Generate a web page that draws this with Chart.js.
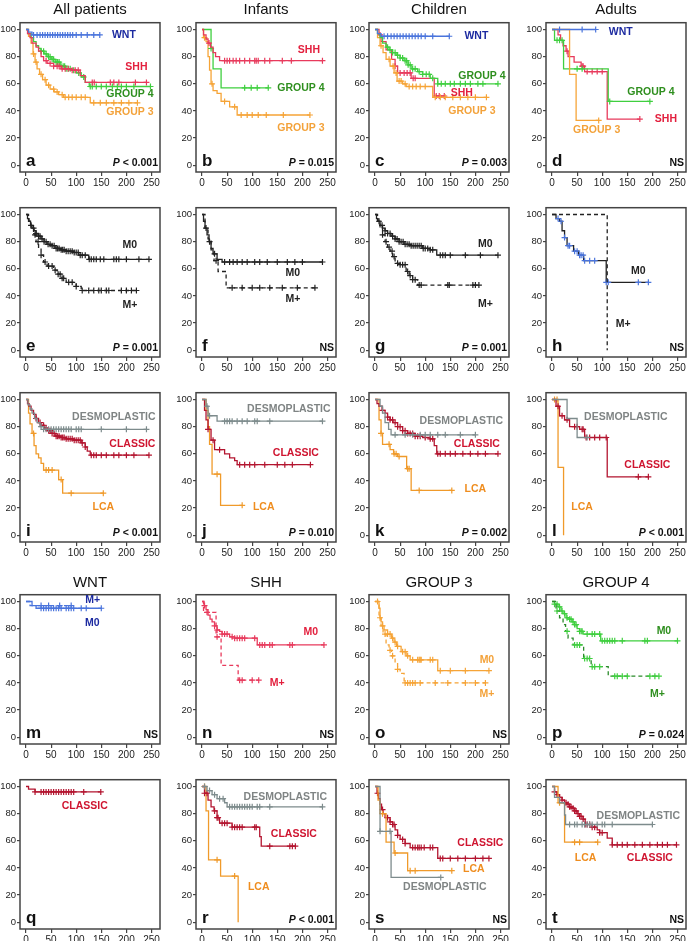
<!DOCTYPE html>
<html>
<head>
<meta charset="utf-8">
<script src="https://cdn.jsdelivr.net/npm/chart.js"></script>
<style>
  body { margin: 0; background: #fff; width: 688px; height: 941px; position: relative; overflow: hidden;
         font-family: 'Liberation Sans', Arial, sans-serif; }
  canvas { position: absolute; }
  .ttl { position: absolute; text-align: center; font-size: 15px; line-height: 18px; color: #111; }
</style>
</head>
<body>
<script>
// axis ticks and panel titles
const X_TICKS = [0, 50, 100, 150, 200, 250];
const Y_TICKS = [0, 20, 40, 60, 80, 100];
const colTitles = ["All patients", "Infants", "Children", "Adults"];
const subTitles = ["WNT", "SHH", "GROUP 3", "GROUP 4"];

// KM curves: [time, survival %] after each drop, plus censor times
// a - all patients by subgroup
const aWnt = [[0,100],[5,98],[12,96]];
const aWntC = [15,22,28,33,38,43,48,53,58,63,68,73,78,83,88,93,100,110,122,135,147];
const aShh = [[0,100],[3,97],[8,94],[12,90],[20,87],[25,84],[30,80],[35,77],[42,75],[55,73],[70,71],[90,70],[108,66],[118,61]];
const aShhC = [40,48,55,62,66,72,78,84,92,98,104,132,136,168,175,185,218,240];
const aG4 = [[0,100],[4,97],[10,94],[15,91],[20,88],[25,86],[30,84],[36,82],[42,80],[50,78],[58,76],[68,73],[78,71],[90,70],[100,68],[110,65],[118,61],[126,58]];
const aG4C = [30,35,40,45,48,52,55,60,63,66,70,74,77,80,84,88,95,105,115,128,132,140,150,160,172,182,190,200,215,248];
const aG3 = [[0,100],[5,95],[10,90],[14,82],[18,76],[22,71],[27,67],[33,63],[40,59],[48,56],[56,54],[65,52],[75,50],[128,46]];
const aG3C = [15,20,30,38,45,55,62,72,78,85,92,100,110,118,135,148,160,175,190,205,222];

// b - infants
const bShh = [[0,100],[3,96],[8,93],[12,90],[17,87],[22,83],[27,80],[35,77]];
const bShhC = [14,45,50,55,62,68,75,85,95,105,108,112,125,135,160,178,240];
const bG4 = [[0,100],[18,86],[22,71],[38,57]];
const bG4C = [18,85,98,110,132];
const bG3 = [[0,100],[3,94],[8,91],[12,80],[15,70],[18,60],[22,55],[30,53],[38,47],[55,43],[70,37]];
const bG3C = [5,20,45,65,78,90,100,112,128,162,215];

// c - children
const cWnt = [[0,100],[5,97],[12,95]];
const cWntC = [18,25,32,38,44,50,56,62,68,74,80,86,92,100,115,148];
const cShh = [[0,100],[8,96],[12,91],[22,85],[33,78],[40,73],[45,68],[72,64],[118,51]];
const cShhC = [10,40,50,58,64,70,76,80,122,128,138];
const cG4 = [[0,100],[5,97],[10,94],[15,90],[22,87],[28,85],[35,83],[42,81],[50,79],[58,77],[66,74],[72,71],[85,69],[95,67],[110,64],[125,60]];
const cG4C = [25,30,35,40,45,50,55,60,63,66,70,75,80,88,95,102,108,115,125,132,140,150,158,170,180,190,205,215,245];
const cG3 = [[0,100],[5,94],[10,88],[16,83],[22,78],[30,73],[38,68],[44,62],[55,60],[62,58],[115,50]];
const cG3C = [12,28,36,42,48,52,60,68,75,82,90,100,120,130,140,155,170,185,200,222];

// d - adults
const dWnt = [[0,100]];
const dWntC = [15,60,87];
const dShh = [[0,100],[12,96],[17,92],[22,88],[28,84],[32,80],[44,76],[58,73],[65,69],[110,34]];
const dShhC = [30,60,62,70,80,90,100,175];
const dG4 = [[0,100],[5,92],[23,71],[112,47]];
const dG4C = [10,15,20,50,60,115,195];
const dG3 = [[0,100],[35,67],[48,33]];
const dG3C = [93];

// e-h - metastatic stage
const eM0 = [[0,100],[3,97],[6,95],[9,92],[12,90],[16,88],[20,86],[25,84],[30,82],[36,80],[42,78],[50,77],[58,75],[68,74],[80,73],[95,72],[105,70],[125,67]];
const eM0C = [10,15,20,25,28,32,36,40,44,48,52,56,60,63,66,70,73,76,80,84,88,92,96,100,104,108,112,118,126,130,135,140,148,155,175,180,185,200,225,245];
const eMp = [[0,100],[5,95],[10,90],[15,85],[20,80],[25,75],[30,70],[35,65],[42,62],[55,59],[62,56],[70,53],[80,50],[100,47],[110,44]];
const eMpC = [18,24,30,38,45,52,58,64,68,72,75,85,92,100,112,125,135,145,150,160,165,190,200,210,220];
const fM0 = [[0,100],[3,95],[6,90],[10,85],[14,80],[18,75],[22,71],[30,67],[40,65]];
const fM0C = [8,15,25,45,55,62,70,80,90,105,115,130,150,170,185,200,240];
const fMp = [[0,100],[6,90],[12,82],[18,74],[24,66],[32,58],[48,46]];
const fMpC = [28,60,80,100,115,135,160,190,225];
const gM0 = [[0,100],[3,97],[6,95],[10,92],[15,90],[20,88],[25,86],[32,84],[40,82],[48,80],[58,78],[70,77],[95,75],[110,74],[123,70]];
const gM0C = [8,14,20,25,30,35,40,44,48,52,56,60,64,68,72,76,80,84,88,92,96,100,105,110,115,130,135,140,150,180,210,245];
const gMp = [[0,100],[5,95],[10,90],[15,85],[20,80],[25,76],[30,73],[35,69],[40,64],[50,63],[62,58],[68,55],[75,52],[85,48]];
const gMpC = [15,22,28,34,38,45,50,55,60,65,70,75,80,88,92,145,148,195,200,207];
const hM0 = [[0,100],[8,97],[15,95],[20,88],[25,83],[30,77],[43,73],[53,70],[63,66],[108,50]];
const hM0C = [12,18,25,32,35,45,50,55,58,62,65,75,85,108,112,172,192];
const hMp = [[0,100],[110,0]];
const hMpC = [];

// i-l - histology
const iDes = [[0,100],[4,96],[8,93],[12,90],[17,86],[22,83],[28,80],[35,78]];
const iDesC = [30,35,40,45,50,55,60,65,70,75,80,85,90,100,105,110,150,200,240];
const iCla = [[0,100],[3,97],[6,95],[10,92],[15,89],[20,86],[25,83],[30,81],[36,79],[42,77],[50,75],[58,73],[68,72],[80,71],[95,70],[110,68],[118,65],[122,62],[128,59]];
const iClaC = [20,28,35,40,45,48,52,56,60,63,66,70,73,76,80,84,88,92,96,100,104,108,112,118,130,135,140,150,160,175,185,200,215,245];
const iLca = [[0,100],[5,90],[8,82],[12,75],[16,66],[20,60],[25,57],[30,53],[35,48],[65,41],[73,31]];
const iLcaC = [15,40,45,52,70,90,154];
const jDes = [[0,100],[8,95],[12,88],[30,84]];
const jDesC = [10,15,45,50,55,60,70,80,90,105,110,135,240];
const jCla = [[0,100],[5,92],[8,85],[12,78],[18,70],[25,63],[45,60],[55,57],[65,55],[70,52]];
const jClaC = [12,22,35,75,85,95,105,125,150,165,180,216];
const jLca = [[0,100],[8,92],[12,80],[15,67],[20,45],[37,22]];
const jLcaC = [30,80];
const kDes = [[0,100],[10,95],[15,90],[20,83],[27,78],[32,74]];
const kDesC = [40,60,75,90,100,110,125,140,170,200];
const kCla = [[0,100],[4,97],[8,95],[14,92],[20,90],[25,87],[30,85],[36,83],[45,80],[55,77],[65,75],[80,73],[95,72],[110,71],[118,66],[123,60]];
const kClaC = [15,25,30,35,40,45,50,55,60,65,70,75,80,85,90,100,110,115,125,130,140,150,160,175,190,205,220,245];
const kLca = [[0,100],[8,85],[12,75],[15,67],[30,63],[37,60],[45,58],[63,49],[72,33]];
const kLcaC = [12,28,38,42,48,65,68,88,153];
const lDes = [[0,100],[30,86],[50,72]];
const lDesC = [70];
const lCla = [[0,100],[8,95],[15,88],[25,85],[35,80],[55,78],[65,72],[110,43]];
const lClaC = [12,20,30,45,50,60,62,68,75,85,95,108,172,192];
const lLca = [[0,100],[12,50],[23,0]];
const lLcaC = [5,10];

// m-p - stage within subgroup
const mMp = [[0,100],[8,97]];
const mMpC = [30,45,67,90];
const mM0 = [[0,100],[12,97],[20,95]];
const mM0C = [30,35,40,45,50,55,60,65,70,80,85,90,95,110,120,150];
const nM0 = [[0,100],[4,97],[8,94],[12,90],[16,87],[20,85],[25,82],[30,79],[35,78],[40,76],[55,74],[65,73],[110,68]];
const nM0C = [5,25,30,40,45,50,60,65,70,75,80,85,105,115,120,125,135,140,175,180,243];
const nMp = [[0,100],[3,92],[28,74],[38,53],[72,42]];
const nMpC = [10,30,75,80,100,113];
const oM0 = [[0,100],[8,95],[10,88],[12,85],[15,82],[18,79],[25,76],[33,73],[38,70],[43,67],[52,63],[62,60],[70,57],[125,49]];
const oM0C = [5,10,15,25,30,35,40,45,55,60,65,75,85,88,90,92,110,115,130,150,180,227];
const oMp = [[0,100],[8,88],[12,82],[16,76],[22,68],[28,64],[33,60],[40,55],[45,50],[50,47],[58,40]];
const oMpC = [20,30,35,45,60,65,70,75,80,90,120,145,180,200,220];
const pM0 = [[0,100],[5,98],[12,96],[18,93],[22,91],[28,88],[35,87],[40,85],[45,83],[50,80],[55,78],[62,76],[97,71]];
const pM0C = [5,10,15,20,25,30,35,38,42,45,48,55,58,60,70,80,85,95,100,105,110,115,120,125,140,185,190,250];
const pMp = [[0,100],[8,93],[15,88],[22,83],[27,78],[32,73],[42,68],[63,58],[78,52],[112,45]];
const pMpC = [10,30,45,50,55,65,70,75,80,85,95,125,130,140,150,195,205,213];

// q-t - histology within subgroup
const qCla = [[0,100],[5,98],[18,96]];
const qClaC = [18,30,35,40,45,50,55,60,65,70,75,80,85,90,95,115,149];
const rDes = [[0,100],[10,97],[20,94],[30,91],[45,88],[50,85]];
const rDesC = [5,15,25,35,42,55,60,65,70,75,80,85,90,95,100,110,115,135,240];
const rCla = [[0,100],[5,95],[12,90],[18,85],[24,82],[30,77],[35,73],[60,70],[115,63],[118,56]];
const rClaC = [5,10,25,30,32,40,45,50,60,65,70,75,80,105,108,135,175,180,186];
const rLca = [[0,100],[8,82],[13,46],[37,34],[72,0]];
const rLcaC = [5,30,65];
const sDes = [[0,100],[10,67],[32,33]];
const sDesC = [10,30,131];
const sCla = [[0,100],[4,95],[7,91],[10,87],[13,83],[16,80],[20,77],[30,74],[35,72],[40,68],[45,64],[50,61],[60,58],[70,55],[125,47]];
const sClaC = [5,15,25,30,35,38,45,55,60,75,80,85,88,92,98,110,115,130,135,150,165,180,200,215,227];
const sLca = [[0,100],[6,90],[10,80],[22,59],[38,51],[65,38]];
const sLcaC = [15,40,70,80,153];
const tDes = [[0,100],[5,92],[15,88],[25,79],[27,72]];
const tDesC = [35,45,50,60,65,70,75,80,90,100,105,120,200];
const tCla = [[0,100],[5,96],[10,94],[15,92],[20,90],[25,88],[30,87],[35,85],[40,84],[45,82],[50,80],[55,78],[62,76],[66,72],[80,70],[90,68],[95,66],[110,62],[120,57]];
const tClaC = [5,10,15,20,25,28,32,35,38,42,45,48,52,55,58,62,66,70,75,80,85,95,100,120,130,140,150,165,180,195,210,220,230,248];
const tLca = [[0,100],[12,88],[25,59]];
const tLcaC = [15,45,55,91];

// colours
const C = {
  wnt: "#4a74dc", wntL: "#1c2aa0", shh: "#e83a5c", shhL: "#e3203e",
  g4: "#3fcf3f", g4L: "#2f8f1f", g3: "#f6a437", g3L: "#f3a23a",
  blk: "#222222", des: "#7d8b8c", desL: "#7f8484", cla: "#b3142f", claL: "#cf1530",
  lca: "#f09a2a", lcaL: "#ef8d1f", g4dark: "#2a8a2a"
};

// layout
const BX = [20, 196, 369, 546];
const BY = [20, 205, 390, 592, 777];
const BW = 140, BH = 152, AXW = 24, AXH = 18, PADT = 4, PADR = 10;

function S(steps, cens, color, o = {}) {
  return { steps, cens, color, dash: o.dash || false, pc: o.pc || color };
}

const panels = [
  { c: 0, r: 0, letter: "a", p: "P < 0.001",
    series: [S(aWnt, aWntC, C.wnt), S(aShh, aShhC, C.shh), S(aG4, aG4C, C.g4), S(aG3, aG3C, C.g3)],
    labels: [["WNT", 195, 96, C.wntL], ["SHH", 220, 72, C.shhL], ["GROUP 4", 207, 52.5, C.g4L], ["GROUP 3", 207, 39, C.g3L]] },
  { c: 1, r: 0, letter: "b", p: "P = 0.015",
    series: [S(bShh, bShhC, C.shh), S(bG4, bG4C, C.g4), S(bG3, bG3C, C.g3)],
    labels: [["SHH", 213, 85, C.shhL], ["GROUP 4", 197, 56.5, C.g4L], ["GROUP 3", 197, 27, C.g3L]] },
  { c: 2, r: 0, letter: "c", p: "P = 0.003",
    series: [S(cWnt, cWntC, C.wnt), S(cG4, cG4C, C.g4), S(cG3, cG3C, C.g3), S(cShh, cShhC, C.shh)],
    labels: [["WNT", 202, 95, C.wntL], ["GROUP 4", 213, 66, C.g4L], ["SHH", 173, 53, C.shhL], ["GROUP 3", 193, 40, C.g3L]] },
  { c: 3, r: 0, letter: "d", p: "NS",
    series: [S(dWnt, dWntC, C.wnt), S(dG3, dG3C, C.g3), S(dG4, dG4C, C.g4), S(dShh, dShhC, C.shh)],
    labels: [["WNT", 137, 98, C.wntL], ["GROUP 4", 197, 54, C.g4L], ["SHH", 227, 34, C.shhL], ["GROUP 3", 89, 26, C.g3L]] },

  { c: 0, r: 1, letter: "e", p: "P = 0.001",
    series: [S(eM0, eM0C, C.blk), S(eMp, eMpC, C.blk, { dash: true })],
    labels: [["M0", 207, 77.5, C.blk], ["M+", 207, 33, C.blk]] },
  { c: 1, r: 1, letter: "f", p: "NS",
    series: [S(fM0, fM0C, C.blk), S(fMp, fMpC, C.blk, { dash: true })],
    labels: [["M0", 181, 57, C.blk], ["M+", 181, 38, C.blk]] },
  { c: 2, r: 1, letter: "g", p: "P = 0.001",
    series: [S(gM0, gM0C, C.blk), S(gMp, gMpC, C.blk, { dash: true })],
    labels: [["M0", 220, 78, C.blk], ["M+", 220, 34, C.blk]] },
  { c: 3, r: 1, letter: "h", p: "NS",
    series: [S(hMp, hMpC, C.blk, { dash: true }), S(hM0, hM0C, C.blk, { pc: C.wnt })],
    labels: [["M0", 172, 58, C.blk], ["M+", 142, 19, C.blk]] },

  { c: 0, r: 2, letter: "i", p: "P < 0.001",
    series: [S(iDes, iDesC, C.des), S(iCla, iClaC, C.cla), S(iLca, iLcaC, C.lca)],
    labels: [["DESMOPLASTIC", 175, 87, C.desL], ["CLASSIC", 212, 67, C.claL], ["LCA", 154, 21, C.lcaL]] },
  { c: 1, r: 2, letter: "j", p: "P = 0.010",
    series: [S(jDes, jDesC, C.des), S(jCla, jClaC, C.cla), S(jLca, jLcaC, C.lca)],
    labels: [["DESMOPLASTIC", 173, 93, C.desL], ["CLASSIC", 187, 60.5, C.claL], ["LCA", 123, 21, C.lcaL]] },
  { c: 2, r: 2, letter: "k", p: "P = 0.002",
    series: [S(kDes, kDesC, C.des), S(kCla, kClaC, C.cla), S(kLca, kLcaC, C.lca)],
    labels: [["DESMOPLASTIC", 172, 84, C.desL], ["CLASSIC", 203, 67, C.claL], ["LCA", 200, 34, C.lcaL]] },
  { c: 3, r: 2, letter: "l", p: "P < 0.001",
    series: [S(lDes, lDesC, C.des), S(lCla, lClaC, C.cla), S(lLca, lLcaC, C.lca)],
    labels: [["DESMOPLASTIC", 147, 87, C.desL], ["CLASSIC", 190, 52, C.claL], ["LCA", 60, 21, C.lcaL]] },

  { c: 0, r: 3, letter: "m", p: "NS",
    series: [S(mMp, mMpC, C.wnt, { dash: true }), S(mM0, mM0C, C.wnt)],
    labels: [["M+", 133, 101, C.wntL], ["M0", 132, 84, C.wntL]] },
  { c: 1, r: 3, letter: "n", p: "NS",
    series: [S(nMp, nMpC, C.shh, { dash: true }), S(nM0, nM0C, C.shh)],
    labels: [["M0", 217, 77.5, C.shhL], ["M+", 150, 40, C.shhL]] },
  { c: 2, r: 3, letter: "o", p: "NS",
    series: [S(oMp, oMpC, C.g3, { dash: true }), S(oM0, oM0C, C.g3)],
    labels: [["M0", 223, 57, C.g3L], ["M+", 223, 32, C.g3L]] },
  { c: 3, r: 3, letter: "p", p: "P = 0.024",
    series: [S(pMp, pMpC, C.g4dark, { dash: true, pc: C.g4 }), S(pM0, pM0C, C.g4)],
    labels: [["M0", 223, 78, C.g4L], ["M+", 210, 32, C.g4L]] },

  { c: 0, r: 4, letter: "q", p: "",
    series: [S(qCla, qClaC, C.cla)],
    labels: [["CLASSIC", 117, 85.5, C.claL]] },
  { c: 1, r: 4, letter: "r", p: "P < 0.001",
    series: [S(rDes, rDesC, C.des), S(rCla, rClaC, C.cla), S(rLca, rLcaC, C.lca)],
    labels: [["DESMOPLASTIC", 166, 92.5, C.desL], ["CLASSIC", 183, 65, C.claL], ["LCA", 113, 26, C.lcaL]] },
  { c: 2, r: 4, letter: "s", p: "NS",
    series: [S(sDes, sDesC, C.des), S(sLca, sLcaC, C.lca), S(sCla, sClaC, C.cla)],
    labels: [["CLASSIC", 210, 58, C.claL], ["LCA", 197, 39, C.lcaL], ["DESMOPLASTIC", 139, 26, C.desL]] },
  { c: 3, r: 4, letter: "t", p: "NS",
    series: [S(tDes, tDesC, C.des), S(tLca, tLcaC, C.lca), S(tCla, tClaC, C.cla)],
    labels: [["DESMOPLASTIC", 172, 78.5, C.desL], ["LCA", 67, 47, C.lcaL], ["CLASSIC", 195, 47, C.claL]] }
];

// survival level of a step curve at time t (for placing censor marks)
function level(steps, t) {
  let y = steps[0][1];
  for (const [x, s] of steps) {
    if (x <= t) y = s;
  }
  return y;
}

function kmPoints(steps, cens) {
  const pts = steps.map(([x, y]) => ({ x, y, c: false }));
  cens.forEach(t => pts.push({ x: t, y: level(steps, t), c: true }));
  pts.sort((a, b) => a.x - b.x || (a.c - b.c));
  return pts;
}

const FONT = "'Liberation Sans', Arial, Helvetica, sans-serif";
Chart.defaults.font.family = FONT;

function textPlugin(panel) {
  return {
    id: "kmText",
    afterDatasetsDraw(chart) {
      const ctx = chart.ctx;
      const a = chart.chartArea;
      const xs = chart.scales.x, ys = chart.scales.y;
      ctx.save();
      // frame
      ctx.strokeStyle = "#444";
      ctx.lineWidth = 1.5;
      ctx.strokeRect(a.left, a.top, a.right - a.left, a.bottom - a.top);
      // group labels
      ctx.font = "bold 10.5px " + FONT;
      ctx.textAlign = "center";
      ctx.textBaseline = "middle";
      panel.labels.forEach(([txt, lx, ly, col]) => {
        ctx.fillStyle = col;
        ctx.fillText(txt, xs.getPixelForValue(lx), ys.getPixelForValue(ly));
      });
      // panel letter
      ctx.fillStyle = "#111";
      ctx.textAlign = "left";
      ctx.textBaseline = "alphabetic";
      ctx.font = "bold 17px " + FONT;
      ctx.fillText(panel.letter, a.left + 6, a.bottom - 6);
      // p value
      if (panel.p) {
        ctx.textAlign = "right";
        const right = a.right - 2, base = a.bottom - 6;
        if (panel.p.startsWith("P")) {
          const rest = panel.p.slice(1);
          ctx.font = "bold 10.5px " + FONT;
          ctx.fillText(rest, right, base);
          const w = ctx.measureText(rest).width;
          ctx.font = "italic bold 10.5px " + FONT;
          ctx.fillText("P", right - w, base);
        } else {
          ctx.font = "bold 10.5px " + FONT;
          ctx.fillText(panel.p, right, base);
        }
      }
      ctx.restore();
    }
  };
}

function axisOpts(min, max, ticks, isX) {
  return {
    type: "linear",
    min: min,
    max: max,
    afterBuildTicks: s => { s.ticks = ticks.map(v => ({ value: v })); },
    afterFit: s => { if (isX) s.height = AXH; else s.width = AXW; },
    ticks: { font: { size: isX ? 10 : 9.5 }, color: "#222", padding: 1, maxRotation: 0, autoSkip: false },
    grid: { drawOnChartArea: false, tickLength: isX ? 4 : 3, color: "#444", lineWidth: 1.2 },
    border: { display: false }
  };
}

panels.forEach(panel => {
  const cv = document.createElement("canvas");
  const w = AXW + BW + PADR, h = PADT + BH + AXH;
  cv.width = w; cv.height = h;
  cv.style.width = w + "px"; cv.style.height = h + "px";
  cv.style.left = (BX[panel.c] - AXW) + "px";
  cv.style.top = (BY[panel.r] - PADT) + "px";
  document.body.appendChild(cv);

  const datasets = panel.series.map(s => ({
    data: kmPoints(s.steps, s.cens),
    borderColor: s.color,
    borderWidth: 1.3,
    borderDash: s.dash ? [4, 3] : [],
    stepped: "before",
    fill: false,
    pointStyle: "cross",
    pointRadius: c => (c.raw && c.raw.c ? 3 : 0),
    pointHoverRadius: 0,
    pointBorderColor: s.pc,
    pointBorderWidth: 1.2
  }));

  new Chart(cv.getContext("2d"), {
    type: "line",
    data: { datasets },
    options: {
      animation: false,
      responsive: false,
      devicePixelRatio: 1,
      layout: { padding: { top: PADT, right: PADR, left: 0, bottom: 0 } },
      plugins: { legend: { display: false }, tooltip: { enabled: false } },
      scales: {
        x: axisOpts(-12, 267, X_TICKS, true),
        y: axisOpts(-5, 105, Y_TICKS, false)
      }
    },
    plugins: [textPlugin(panel)]
  });
});

// titles above rows 1 and 4
colTitles.forEach((t, i) => addTitle(t, i, 9));
subTitles.forEach((t, i) => addTitle(t, i, 582));

function addTitle(text, col, cy) {
  const d = document.createElement("div");
  d.className = "ttl";
  d.textContent = text;
  d.style.left = BX[col] + "px";
  d.style.width = BW + "px";
  d.style.top = (cy - 9) + "px";
  document.body.appendChild(d);
}
</script>
</body>
</html>
